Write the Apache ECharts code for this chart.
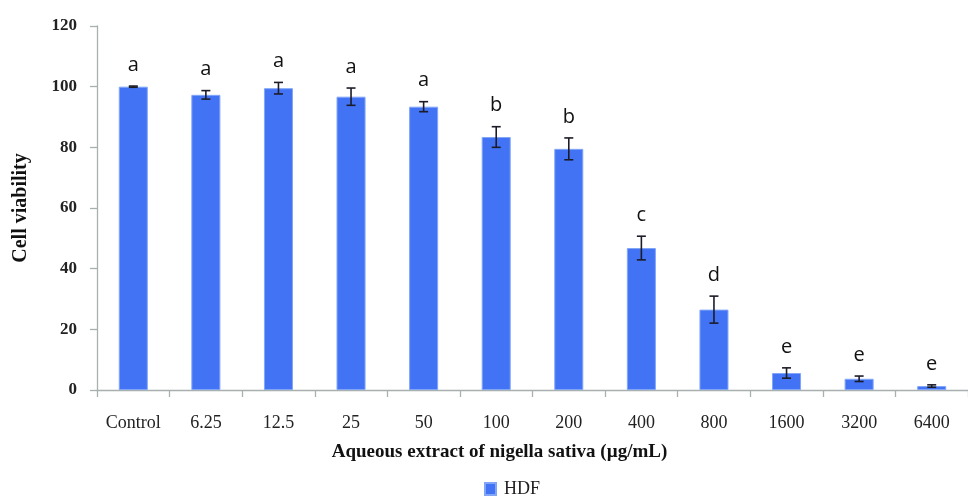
<!DOCTYPE html>
<html>
<head>
<meta charset="utf-8">
<script src="https://cdn.jsdelivr.net/npm/echarts@6/dist/echarts.min.js"></script>
<style>
  html, body { margin: 0; padding: 0; background: #fff; }
  #chart { width: 968px; height: 499px; }
</style>
</head>
<body>
<div id="chart"></div>
<script>
// Concentrations of the extract (µg/mL)
const categories = ['Control', '6.25', '12.5', '25', '50', '100', '200', '400', '800', '1600', '3200', '6400'];
// Mean cell viability (%) of HDF cells
const viability = [100, 97.3, 99.5, 96.7, 93.4, 83.4, 79.5, 46.8, 26.5, 5.6, 3.7, 1.3];
// Standard deviation for each concentration
const deviation = [0.2, 1.4, 1.9, 2.85, 1.65, 3.4, 3.6, 3.9, 4.45, 1.7, 0.9, 0.4];
// Significance groups
const groups = ['a', 'a', 'a', 'a', 'a', 'b', 'b', 'c', 'd', 'e', 'e', 'e'];
const yTicks = { min: 0, max: 120, interval: 20 };

const BAR_COLOR = '#4273f5';
const SERIF = '"Liberation Serif", "DejaVu Serif", serif';

const chart = echarts.init(document.getElementById('chart'), null, { renderer: 'canvas' });

const errorData = categories.map((c, i) => [i, viability[i], deviation[i]]);

chart.setOption({
  backgroundColor: '#ffffff',
  animation: false,
  grid: { left: 97, top: 26, width: 876, height: 364, containLabel: false },
  legend: {
    data: [{ name: 'HDF', icon: 'rect' }],
    left: 479,
    top: 475,
    itemWidth: 11,
    itemHeight: 12,
    itemGap: 10,
    textStyle: { fontFamily: SERIF, fontSize: 18, color: '#222', padding: [0, 0, 0, 3] }
  },
  xAxis: {
    type: 'category',
    data: categories,
    boundaryGap: true,
    axisLine: { lineStyle: { color: '#a9b0b0', width: 1.3 } },
    axisTick: { show: true, length: 7, lineStyle: { color: '#a9b0b0', width: 1.3 } },
    axisLabel: { fontFamily: SERIF, fontSize: 18, color: '#222', margin: 24 },
    name: 'Aqueous extract of nigella sativa (µg/mL)',
    nameLocation: 'middle',
    nameGap: 53,
    nameTextStyle: { fontFamily: SERIF, fontSize: 19, fontWeight: 'bold', color: '#111', padding: [0, 66, 0, 0] }
  },
  yAxis: {
    type: 'value',
    min: yTicks.min,
    max: yTicks.max,
    interval: yTicks.interval,
    splitLine: { show: false },
    axisLine: { show: true, lineStyle: { color: '#a9b0b0', width: 1.3 } },
    axisTick: { show: true, length: 7, lineStyle: { color: '#a9b0b0', width: 1.3 } },
    axisLabel: { fontFamily: SERIF, fontSize: 17, fontWeight: 'bold', color: '#222', margin: 20 },
    name: 'Cell viability',
    nameLocation: 'middle',
    nameGap: 66,
    nameTextStyle: { fontFamily: SERIF, fontSize: 20, fontWeight: 'bold', color: '#111' }
  },
  series: [
    {
      name: 'HDF',
      type: 'bar',
      data: viability,
      barWidth: '40%',
      itemStyle: { color: BAR_COLOR, borderColor: '#82a6f7', borderWidth: 1 }
    },
    {
      name: 'error',
      type: 'custom',
      data: errorData,
      z: 10,
      silent: true,
      renderItem: function (params, api) {
        const i = api.value(0);
        const mean = api.value(1);
        const sd = api.value(2);
        const hi = api.coord([i, mean + sd]);
        const lo = api.coord([i, mean - sd]);
        const half = 4.5;
        const stroke = { stroke: '#1c1c28', lineWidth: 1.6 };
        return {
          type: 'group',
          children: [
            { type: 'line', shape: { x1: hi[0], y1: hi[1], x2: lo[0], y2: lo[1] }, style: stroke },
            { type: 'line', shape: { x1: hi[0] - half, y1: hi[1], x2: hi[0] + half, y2: hi[1] }, style: stroke },
            { type: 'line', shape: { x1: lo[0] - half, y1: lo[1], x2: lo[0] + half, y2: lo[1] }, style: stroke },
            {
              type: 'text',
              style: {
                text: groups[params.dataIndex],
                x: hi[0],
                y: hi[1] - 11,
                fill: '#111',
                font: '20px "Open Sans", "DejaVu Sans", sans-serif',
                align: 'center',
                verticalAlign: 'bottom',
                textAlign: 'center',
                textVerticalAlign: 'bottom'
              }
            }
          ]
        };
      }
    }
  ]
});
</script>
</body>
</html>
